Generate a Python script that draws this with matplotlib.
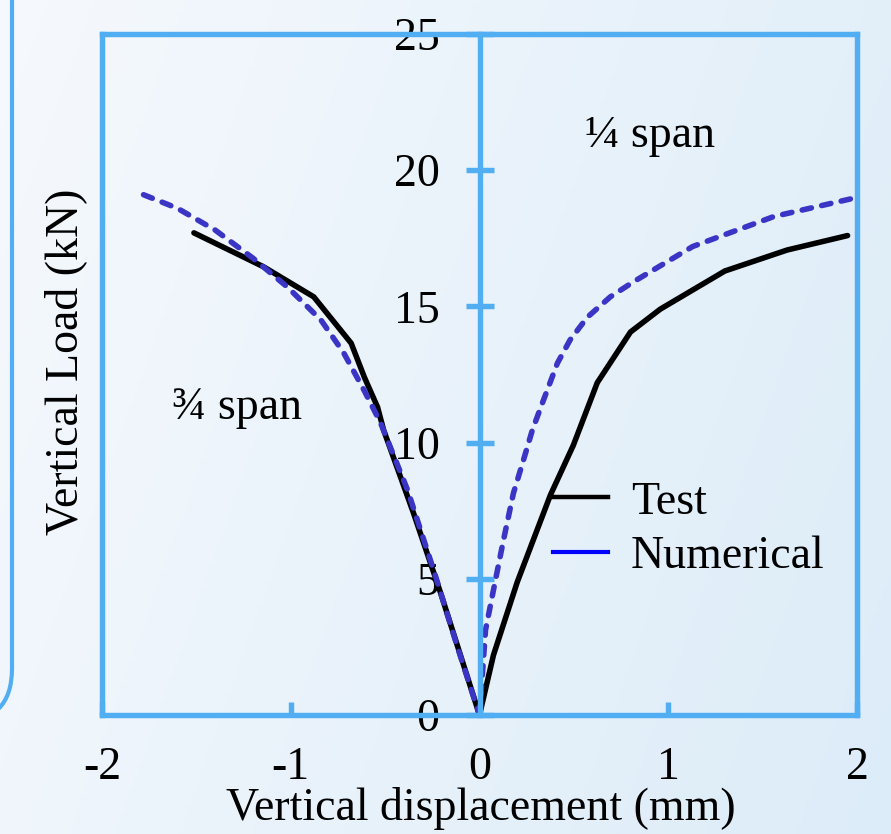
import numpy as np
import matplotlib
matplotlib.use("Agg")
import matplotlib.pyplot as plt
from matplotlib.lines import Line2D
from matplotlib.patches import FancyBboxPatch

# Quarter span (right side, positive displacement)
quarter_test_x = [0.0, 0.074, 0.20, 0.376, 0.497, 0.624, 0.80, 0.958, 1.30, 1.63, 1.95]
quarter_test_y = [0.0, 2.2, 4.88, 8.08, 9.9, 12.2, 14.06, 14.9, 16.3, 17.07, 17.6]
quarter_num_x = [0.0, 0.032, 0.074, 0.127, 0.18, 0.233, 0.28, 0.339, 0.413, 0.48,
                 0.571, 0.693, 0.815, 1.13, 1.56, 2.0]
quarter_num_y = [0.0, 3.12, 4.59, 6.42, 8.15, 9.36, 10.46, 11.56, 12.92, 13.77,
                 14.6, 15.35, 15.9, 17.2, 18.3, 19.0]

# Three-quarter span (left side, negative displacement)
three_q_test_x = [-1.513, -1.143, -0.878, -0.68, -0.61, -0.54, -0.508, -0.349, -0.206, 0.0]
three_q_test_y = [17.7, 16.45, 15.35, 13.65, 12.4, 11.3, 10.46, 7.4, 4.48, 0.0]
three_q_num_x = [-1.78, -1.6, -1.4, -1.2, -1.016, -0.84, -0.72, -0.61, -0.524,
                 -0.381, -0.243, -0.117, 0.0]
three_q_num_y = [19.1, 18.6, 17.8, 16.77, 15.7, 14.5, 13.3, 11.9, 10.72,
                 8.26, 5.32, 2.5, 0.0]

x_ticks = [-2, -1, 0, 1, 2]
y_ticks = [0, 5, 10, 15, 20, 25]

axis_blue = "#52aef2"
num_blue = "#3b35c6"
W, H = 891, 834
fs = 33

plt.rcParams["font.family"] = ["Liberation Serif", "DejaVu Serif"]
fig = plt.figure(figsize=(W / 100, H / 100), dpi=100)

# gradient background
bg = fig.add_axes([0, 0, 1, 1], zorder=-10)
gx = np.linspace(0, 1, 200)
gy = np.linspace(0, 1, 200)
GX, GY = np.meshgrid(gx, gy)
t = np.clip(0.75 * GX + 0.25 * GY, 0, 1)
c0 = np.array([0xf6, 0xf9, 0xfd]) / 255
c1 = np.array([0xdc, 0xec, 0xf8]) / 255
img = c0[None, None, :] * (1 - t[..., None]) + c1[None, None, :] * t[..., None]
bg.imshow(img, extent=[0, 1, 0, 1], aspect="auto", origin="upper")
bg.set_xlim(0, 1)
bg.set_ylim(0, 1)
bg.axis("off")

# rounded panel edge on the left
box = FancyBboxPatch((-200 / W, 1 - 722 / H), 212 / W, 900 / H,
                     boxstyle="round,pad=0,rounding_size=0.06",
                     transform=fig.transFigure, fill=False,
                     edgecolor=axis_blue, linewidth=3.0, mutation_aspect=W / H)
bg.add_patch(box)

ax = fig.add_axes([102 / W, 1 - 715 / H, (857 - 102) / W, (715 - 34) / H])
ax.set_facecolor("none")

ax.plot(quarter_test_x, quarter_test_y, color="black", lw=4.0, solid_capstyle="round")
ax.plot(three_q_test_x, three_q_test_y, color="black", lw=4.0, solid_capstyle="round")
ax.plot(quarter_num_x, quarter_num_y, color=num_blue, lw=4.0, dashes=(1.7, 1.9),
        dash_capstyle="round")
ax.plot(three_q_num_x, three_q_num_y, color=num_blue, lw=4.0, dashes=(1.7, 1.9),
        dash_capstyle="round")

ax.set_xlim(-2, 2)
ax.set_ylim(0, 25)

for s in ["top", "right", "bottom", "left"]:
    ax.spines[s].set_color(axis_blue)
    ax.spines[s].set_linewidth(3.9)
ax.spines["left"].set_position(("data", 0))
ax.axvline(-2, color=axis_blue, lw=3.9, clip_on=False)

ax.set_xticks(x_ticks)
ax.set_xticklabels([str(v) for v in x_ticks])
ax.set_yticks(y_ticks)
ax.set_yticklabels([str(v) for v in y_ticks])
ax.tick_params(axis="x", direction="in", length=9.5, width=3.9, color=axis_blue,
               labelsize=fs, pad=23)
ax.tick_params(axis="y", direction="inout", length=19.5, width=3.9, color=axis_blue,
               labelsize=fs, pad=19)

fig.text(481 / W, 1 - 808 / H, "Vertical displacement (mm)", fontsize=fs,
         ha="center", va="center")
fig.text(66 / W, 1 - 362 / H, "Vertical Load (kN)", fontsize=fs,
         ha="center", va="center", rotation=90)

fig.text(237 / W, 1 - 408 / H, "\u00be span", fontsize=fs, ha="center", va="center")
fig.text(650 / W, 1 - 136 / H, "\u00bc span", fontsize=fs, ha="center", va="center")

handles = [Line2D([], [], color="black", lw=3.2),
           Line2D([], [], color="#0000ff", lw=3.0)]
ax.legend(handles, ["Test", "Numerical"], frameon=False, fontsize=fs,
          loc="upper left", bbox_to_anchor=(553 / W, 1 - 481 / H),
          bbox_transform=fig.transFigure, handlelength=1.2, handletextpad=0.5,
          labelspacing=0.27, borderpad=0, borderaxespad=0)

fig.savefig("out.png", dpi=100)
